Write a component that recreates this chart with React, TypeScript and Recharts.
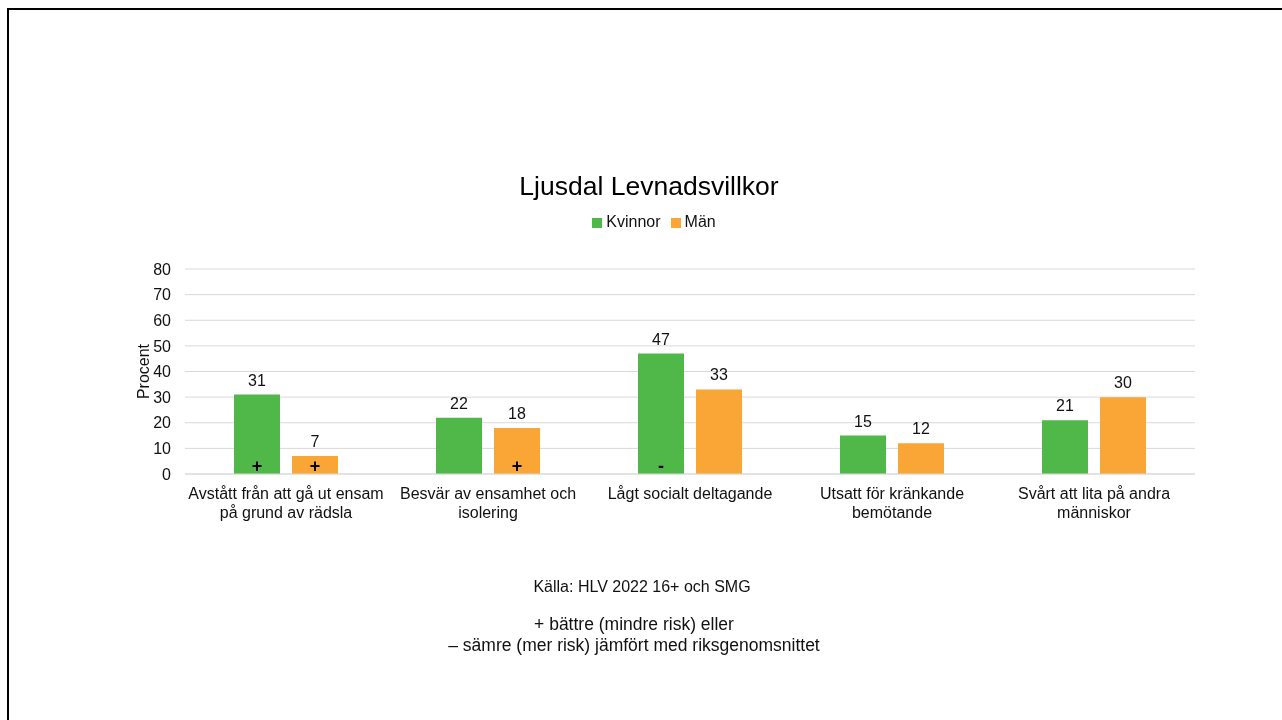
import { Bar, BarChart, CartesianGrid, LabelList, Legend, XAxis, YAxis } from "recharts";

const categories = [
  "Avstått från att gå ut ensam\npå grund av rädsla",
  "Besvär av ensamhet och\nisolering",
  "Lågt socialt deltagande",
  "Utsatt för kränkande\nbemötande",
  "Svårt att lita på andra\nmänniskor",
];
const kvinnor = [31, 22, 47, 15, 21];
const man = [7, 18, 33, 12, 30];
const kvinnorMark = ["+", "", "-", "", ""];
const manMark = ["+", "+", "", "", ""];
const yTicks = [0, 10, 20, 30, 40, 50, 60, 70, 80];

const data = categories.map((name, i) => ({
  name,
  kvinnor: kvinnor[i],
  man: man[i],
  kMark: kvinnorMark[i],
  mMark: manMark[i],
}));

const GREEN = "#50b848";
const ORANGE = "#f9a636";
const TEXT = "#111";
const FONT = "'Liberation Sans', Arial, sans-serif";

function CategoryTick(props: any) {
  const { x, y, payload } = props;
  const lines = String(payload.value).split("\n");
  return (
    <text x={x} y={y} textAnchor="middle" fontSize={16} fill={TEXT} fontFamily={FONT}>
      {lines.map((l, i) => (
        <tspan key={i} x={x} dy={i === 0 ? 17 : 19}>
          {l}
        </tspan>
      ))}
    </text>
  );
}

export default function App() {
  return (
    <div style={{ position: "relative", width: 1266, height: 700, fontFamily: FONT }}>
      <div
        style={{
          position: "fixed",
          left: 7,
          top: 8,
          right: 0,
          bottom: 0,
          borderTop: "2px solid #000",
          borderLeft: "2px solid #000",
          pointerEvents: "none",
        }}
      />
      <div
        style={{
          position: "absolute",
          left: 0,
          width: 1282,
          top: 163,
          textAlign: "center",
          fontSize: 26.5,
          color: "#000",
        }}
      >
        Ljusdal Levnadsvillkor
      </div>
      <BarChart
        width={1266}
        height={700}
        data={data}
        margin={{ top: 243, right: 79, left: 117, bottom: 194 }}
        barGap={12}
        barSize={46}
        style={{ position: "absolute", left: 0, top: 0 }}
      >
        <CartesianGrid vertical={false} stroke="#d9d9d9" />
        <XAxis
          dataKey="name"
          axisLine={{ stroke: "#d9d9d9" }}
          tickLine={false}
          interval={0}
          height={40}
          tick={<CategoryTick />}
        />
        <YAxis
          domain={[0, 80]}
          ticks={yTicks}
          width={60}
          axisLine={false}
          tickLine={false}
          tickMargin={8}
          tick={{ fontSize: 16, fill: TEXT, fontFamily: FONT }}
          label={{
            value: "Procent",
            angle: -90,
            position: "insideLeft",
            offset: 18,
            style: { fontSize: 16, fill: TEXT, fontFamily: FONT, textAnchor: "middle" },
          }}
        />
        <Legend
          verticalAlign="top"
          align="center"
          iconType="square"
          iconSize={10}
          wrapperStyle={{ top: 205, left: 10, width: 1282, fontSize: 16, fontFamily: FONT }}
          formatter={(value: string) => <span style={{ color: TEXT }}>{value}</span>}
        />
        <Bar dataKey="kvinnor" name="Kvinnor" fill={GREEN} isAnimationActive={false}>
          <LabelList dataKey="kvinnor" position="top" offset={9} fontSize={16} fill={TEXT} fontFamily={FONT} />
          <LabelList dataKey="kMark" position="insideBottom" offset={2} fontSize={18} fontWeight="bold" fill="#000" fontFamily={FONT} />
        </Bar>
        <Bar dataKey="man" name="Män" fill={ORANGE} isAnimationActive={false}>
          <LabelList dataKey="man" position="top" offset={9} fontSize={16} fill={TEXT} fontFamily={FONT} />
          <LabelList dataKey="mMark" position="insideBottom" offset={2} fontSize={18} fontWeight="bold" fill="#000" fontFamily={FONT} />
        </Bar>
      </BarChart>
      <div
        style={{
          position: "absolute",
          left: -7,
          width: 1282,
          top: 570,
          textAlign: "center",
          fontSize: 16,
          color: TEXT,
        }}
      >
        Källa: HLV 2022 16+ och SMG
      </div>
      <div
        style={{
          position: "absolute",
          left: -15,
          width: 1282,
          top: 606,
          textAlign: "center",
          fontSize: 17.5,
          lineHeight: "21px",
          color: TEXT,
        }}
      >
        + bättre (mindre risk) eller
        <br />– sämre (mer risk) jämfört med riksgenomsnittet
      </div>
    </div>
  );
}
